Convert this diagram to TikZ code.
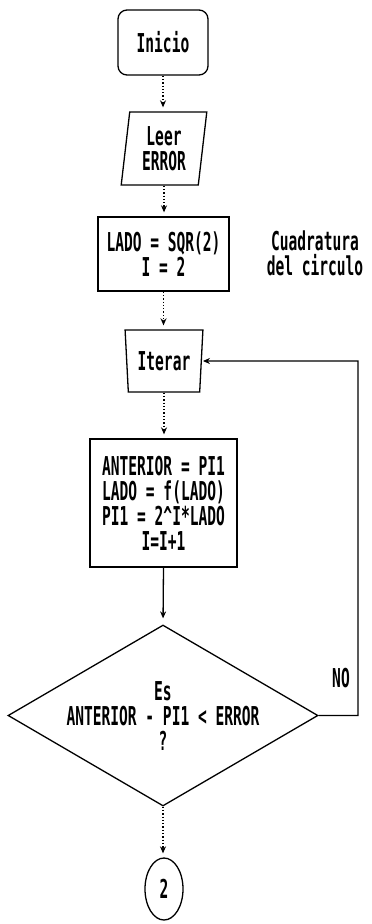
\documentclass[tikz,border=0pt]{standalone}
\usepackage{fontspec}
\newfontfamily\dosfont[FakeStretch=0.56]{DejaVu Sans Mono}
\usetikzlibrary{shapes.geometric,arrows.meta}
\newcommand\dostxt{\dosfont\bfseries\fontsize{26}{25}\selectfont}
\begin{document}
\begin{tikzpicture}[x=1pt,y=-1pt,
  shp/.style={draw, line width=1.3pt, inner sep=0pt, align=center, font=\dostxt},
  txt/.style={inner sep=0pt, align=center, font=\dostxt},
  arr/.style={-{Stealth[length=7pt,width=6pt]}, line width=1.3pt, shorten >=4pt},
  faint/.style={arr, dotted}]
\useasboundingbox (0,0) rectangle (372,924);
\fill[white] (0,0) rectangle (372,924);
% shapes
\node[shp, rounded corners=9pt, minimum width=90pt, minimum height=65pt] (ini) at (163,42.5) {Inicio};
\node[shp, trapezium, trapezium left angle=83, trapezium right angle=97, trapezium stretches=true,
      minimum width=86pt, minimum height=73pt] (leer) at (164,148.5) {Leer\\ERROR};
\node[shp, minimum width=131pt, minimum height=74pt] (lado) at (163.5,254) {LADO = SQR(2)\\I = 2};
\node[shp, trapezium, shape border rotate=180, trapezium left angle=83, trapezium right angle=83,
      trapezium stretches=true, minimum width=78pt, minimum height=62pt] (iter) at (164,361) {Iterar};
\node[shp, minimum width=147pt, minimum height=128pt] (calc) at (163.5,503)
  {ANTERIOR = PI1\\LADO = f(LADO)\\PI1 = 2\textasciicircum I*LADO\\I=I+1};
\node[shp, diamond, minimum width=310pt, minimum height=181pt] (dec) at (163,715.5) {};
\node[txt] (dect) at (163,716) {Es\\ANTERIOR - PI1 < ERROR\\?};
\node[shp, ellipse, minimum width=38pt, minimum height=62pt] (con) at (164,889) {2};
\node[txt] (cuad) at (315,253.5) {Cuadratura\\del circulo};
\node[txt] (no) at (341,678) {NO};
% connectors
\draw[faint] (ini.south) -- (ini.south |- leer.north);
\draw[faint] (leer.south) -- (leer.south |- lado.north);
\draw[faint] (lado.south) -- (lado.south |- iter.north);
\draw[faint] (iter.south) -- (iter.south |- calc.north);
\draw[arr, shorten >=6pt] (calc.south) -- (dec.north);
\draw[faint] (dec.south) -- (dec.south |- con.north);
\coordinate (loop) at (358,361);
\draw[arr, shorten >=1pt] (dec.east) -| (loop) -- (iter.east);
\end{tikzpicture}
\end{document}
